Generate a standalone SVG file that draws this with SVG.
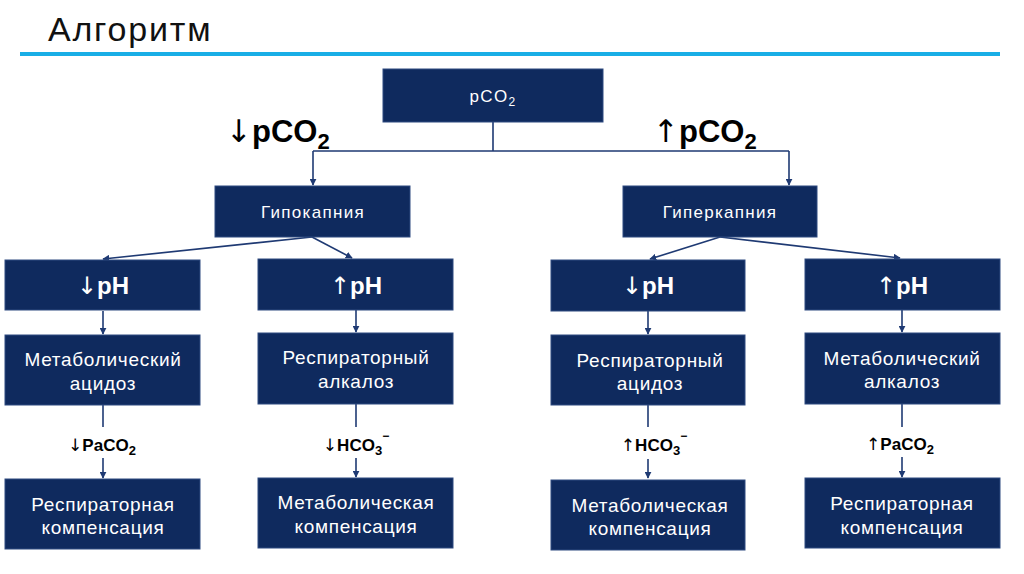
<svg xmlns="http://www.w3.org/2000/svg" width="1024" height="574" viewBox="0 0 1024 574">
<defs>
<marker id="ah" viewBox="0 0 10 10" refX="9" refY="5" markerWidth="7" markerHeight="7" orient="auto" markerUnits="userSpaceOnUse"><path d="M0,0 L10,5 L0,10 z" fill="#1F3A73"/></marker>
<style>
.box{fill:#0F2A5E;stroke:#2E4A80;stroke-width:1}
.t{font-family:"Liberation Sans","Open Sans",sans-serif;fill:#fff;text-anchor:middle}
.m{font-size:19px;letter-spacing:0.7px}
.s{font-size:17px;letter-spacing:1.3px}
.b{font-size:24px;font-weight:bold}
.lb{font-family:"Liberation Sans","Open Sans",sans-serif;fill:#000;font-weight:bold;text-anchor:middle;font-size:17px}
.big{font-family:"Liberation Sans","Open Sans",sans-serif;fill:#000;font-weight:bold;font-size:31px}
.ar{font-family:"DejaVu Sans",sans-serif;font-weight:normal}
.c{stroke:#1F3A73;stroke-width:1.6;fill:none}
</style>
</defs>
<rect width="1024" height="574" fill="#fff"/>
<text x="48" y="41" font-family="'Liberation Sans',sans-serif" font-size="34" letter-spacing="1.8" fill="#111">Алгоритм</text>
<rect x="20" y="52" width="980" height="4" fill="#19AEE6"/>
<text class="big" x="226" y="142"><tspan class="ar">↓</tspan>pCO<tspan font-size="22" dy="7">2</tspan></text>
<text class="big" x="653" y="142"><tspan class="ar">↑</tspan>pCO<tspan font-size="22" dy="7">2</tspan></text>
<g id="connectors">
<path class="c" d="M493,122 V151 M313,151 H789"/>
<path class="c" d="M313,151 V185" marker-end="url(#ah)"/>
<path class="c" d="M789,151 V185" marker-end="url(#ah)"/>
<path class="c" d="M312,237 L103,259" marker-end="url(#ah)"/>
<path class="c" d="M312,237 L352,258" marker-end="url(#ah)"/>
<path class="c" d="M720,237 L650,259" marker-end="url(#ah)"/>
<path class="c" d="M720,237 L900,258" marker-end="url(#ah)"/>
<path class="c" d="M103,311 V334" marker-end="url(#ah)"/>
<path class="c" d="M356,310 V332" marker-end="url(#ah)"/>
<path class="c" d="M648,311 V334" marker-end="url(#ah)"/>
<path class="c" d="M902,310 V332" marker-end="url(#ah)"/>
<path class="c" d="M103,405 V427"/>
<path class="c" d="M356,404 V427"/>
<path class="c" d="M648,405 V427"/>
<path class="c" d="M902,404 V427"/>
<path class="c" d="M103,458 V478" marker-end="url(#ah)"/>
<path class="c" d="M356,458 V477" marker-end="url(#ah)"/>
<path class="c" d="M648,459 V478" marker-end="url(#ah)"/>
<path class="c" d="M902,457 V477" marker-end="url(#ah)"/>
</g>
<g id="pco2"><rect class="box" x="383" y="69" width="220" height="53"/><text class="t s" x="493" y="102">pCO<tspan font-size="12" dy="4">2</tspan></text></g>
<g id="hypo"><rect class="box" x="215" y="186" width="195" height="51"/><text class="t s" x="313" y="218">Гипокапния</text></g>
<g id="hyper"><rect class="box" x="623" y="186" width="194" height="51"/><text class="t s" x="720" y="218">Гиперкапния</text></g>
<g id="ph1"><rect class="box" x="5" y="260" width="195" height="50"/><text class="t b" x="103" y="294"><tspan class="ar">↓</tspan>pH</text></g>
<g id="ph2"><rect class="box" x="258" y="259" width="195" height="51"/><text class="t b" x="356" y="294"><tspan class="ar">↑</tspan>pH</text></g>
<g id="ph3"><rect class="box" x="551" y="260" width="194" height="51"/><text class="t b" x="648" y="294"><tspan class="ar">↓</tspan>pH</text></g>
<g id="ph4"><rect class="box" x="805" y="259" width="195" height="51"/><text class="t b" x="902" y="294"><tspan class="ar">↑</tspan>pH</text></g>
<g id="d1"><rect class="box" x="5" y="335" width="195" height="70"/><text class="t m" x="103" y="366">Метаболический</text><text class="t m" x="103" y="390">ацидоз</text></g>
<g id="d2"><rect class="box" x="258" y="333" width="195" height="71"/><text class="t m" x="356" y="364">Респираторный</text><text class="t m" x="356" y="388">алкалоз</text></g>
<g id="d3"><rect class="box" x="551" y="335" width="194" height="70"/><text class="t m" x="650" y="367">Респираторный</text><text class="t m" x="650" y="390">ацидоз</text></g>
<g id="d4"><rect class="box" x="805" y="333" width="195" height="71"/><text class="t m" x="902" y="365">Метаболический</text><text class="t m" x="902" y="388">алкалоз</text></g>
<text class="lb" x="102" y="451"><tspan class="ar">↓</tspan>PaCO<tspan font-size="13" dy="4">2</tspan></text>
<text class="lb" x="356" y="451"><tspan class="ar">↓</tspan>HCO<tspan font-size="13" dy="4">3</tspan><tspan font-size="12" dy="-15">−</tspan></text>
<text class="lb" x="654" y="451"><tspan class="ar">↑</tspan>HCO<tspan font-size="13" dy="4">3</tspan><tspan font-size="12" dy="-15">−</tspan></text>
<text class="lb" x="900" y="450"><tspan class="ar">↑</tspan>PaCO<tspan font-size="13" dy="4">2</tspan></text>
<g id="c1"><rect class="box" x="5" y="479" width="195" height="70"/><text class="t m" x="103" y="511">Респираторная</text><text class="t m" x="103" y="534">компенсация</text></g>
<g id="c2"><rect class="box" x="258" y="478" width="195" height="70"/><text class="t m" x="356" y="509">Метаболическая</text><text class="t m" x="356" y="533">компенсация</text></g>
<g id="c3"><rect class="box" x="551" y="480" width="194" height="70"/><text class="t m" x="650" y="512">Метаболическая</text><text class="t m" x="650" y="535">компенсация</text></g>
<g id="c4"><rect class="box" x="805" y="478" width="195" height="70"/><text class="t m" x="902" y="510">Респираторная</text><text class="t m" x="902" y="534">компенсация</text></g>
</svg>
